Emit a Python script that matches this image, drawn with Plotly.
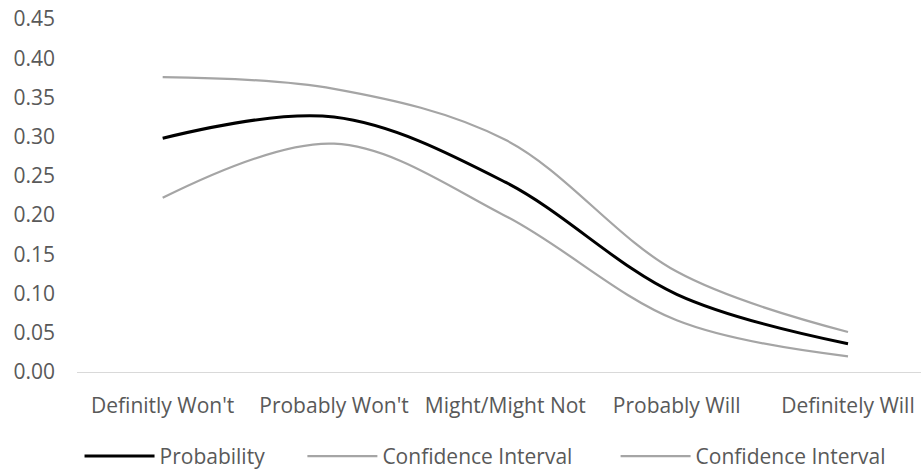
import plotly.graph_objects as go

categories = ["Definitly Won't", "Probably Won't", "Might/Might Not", "Probably Will", "Definitely Will"]
probability = [0.298, 0.325, 0.242, 0.099, 0.036]
ci_upper = [0.376, 0.361, 0.296, 0.128, 0.051]
ci_lower = [0.222, 0.291, 0.199, 0.066, 0.020]
y_ticks = [0.00, 0.05, 0.10, 0.15, 0.20, 0.25, 0.30, 0.35, 0.40, 0.45]

FONT = "Open Sans, sans-serif"
TXT = "#595959"
x = list(range(len(categories)))

fig = go.Figure()
fig.add_trace(go.Scatter(x=x, y=probability, mode="lines", name="Probability" + "\u00a0" * 6,
                         line=dict(color="#000000", width=3, shape="spline", smoothing=1)))
fig.add_trace(go.Scatter(x=x, y=ci_upper, mode="lines", name="Confidence Interval" + "\u00a0" * 7,
                         line=dict(color="#A5A5A5", width=2.25, shape="spline", smoothing=1)))
fig.add_trace(go.Scatter(x=x, y=ci_lower, mode="lines", name="Confidence Interval",
                         line=dict(color="#A5A5A5", width=2.25, shape="spline", smoothing=1)))

fig.update_layout(
    width=921, height=474,
    margin=dict(l=77, r=0, t=19, b=101.5, autoexpand=False),
    paper_bgcolor="white", plot_bgcolor="white",
    font=dict(family=FONT, size=21, color=TXT),
    showlegend=True,
    legend=dict(orientation="h", x=0.003, xanchor="left", y=-0.239, yanchor="middle",
                font=dict(family=FONT, size=21, color=TXT), traceorder="normal",
                itemwidth=70),
    xaxis=dict(range=[-0.5, 4.426], tickmode="array", tickvals=x, ticktext=categories,
               showgrid=False, zeroline=False, showline=True, linecolor="#D9D9D9", linewidth=1,
               ticks="", automargin=False, ticklabelstandoff=15,
               tickfont=dict(family=FONT, size=21, color=TXT)),
    yaxis=dict(range=[0, 0.45], tickmode="array", tickvals=y_ticks,
               ticktext=[f"{v:.2f}" for v in y_ticks], showgrid=False, zeroline=False,
               showline=False, ticks="", automargin=False,
               tickfont=dict(family=FONT, size=21, color=TXT), ticklabelstandoff=21),
)

fig.write_html("out.html", config={"displayModeBar": False},
               post_script="document.body.style.margin='0';")
